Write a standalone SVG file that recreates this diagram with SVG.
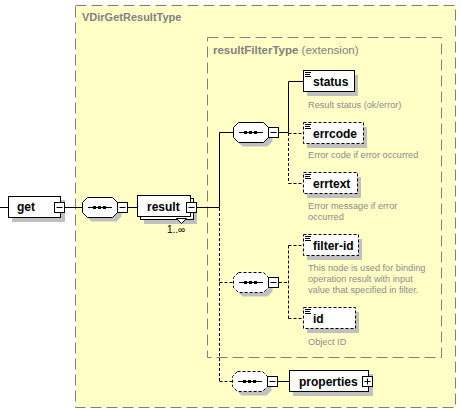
<svg xmlns="http://www.w3.org/2000/svg" xmlns:xlink="http://www.w3.org/1999/xlink" width="461" height="412" viewBox="0 0 461 412">
<defs>
<style>
.type{fill:#FFFFC6;stroke:#808080;stroke-width:1;stroke-dasharray:11,5}
.sh{fill:#C0C0C0;stroke:none}
.box{fill:#fff;stroke:#000;stroke-width:1}
.opt{stroke-dasharray:3,2}
.ln{stroke:#000;stroke-width:1;fill:none}
.dl{stroke:#000;stroke-width:1;fill:none;stroke-dasharray:3,2}
.el{font-family:"Liberation Sans",Arial,sans-serif;font-weight:bold;font-size:12px;fill:#000}
.ttl{font-family:"Liberation Sans",Arial,sans-serif;font-weight:bold;font-size:11px;fill:#808080}
.ttl2{font-family:"Liberation Sans",Arial,sans-serif;font-weight:bold;font-size:11.5px;fill:#808080}
.ext{font-family:"Liberation Sans",Arial,sans-serif;font-weight:normal;font-size:11.5px;fill:#808080}
.ann{font-family:"Liberation Sans",Arial,sans-serif;font-size:9.2px;fill:#8c8c8c}
.occ{font-family:"Liberation Sans",Arial,sans-serif;font-size:10px;fill:#000}
</style>
<g id="mn"><rect x="0.5" y="0.5" width="10" height="10" class="box"/><line class="ln" x1="2.5" y1="5.5" x2="8.5" y2="5.5"/></g>
<g id="pl"><rect x="0.5" y="0.5" width="10" height="10" class="box"/><line class="ln" x1="2.5" y1="5.5" x2="8.5" y2="5.5"/><line class="ln" x1="5.5" y1="2.5" x2="5.5" y2="8.5"/></g>
<g id="ic"><line class="ln" x1="2" y1="2.5" x2="8" y2="2.5"/><line class="ln" x1="2" y1="4.5" x2="7" y2="4.5"/><line class="ln" x1="2" y1="6.5" x2="8" y2="6.5"/></g>
<polygon id="oct" points="5.5,0.5 30.5,0.5 35.5,5.5 35.5,15.5 30.5,20.5 5.5,20.5 0.5,15.5 0.5,5.5"/>
<g id="seqmark"><line class="ln" x1="6" y1="10.5" x2="30" y2="10.5"/><rect x="11" y="9" width="3" height="3" fill="#000"/><rect x="16" y="9" width="3" height="3" fill="#000"/><rect x="21" y="9" width="3" height="3" fill="#000"/></g>
<g id="seqS"><use xlink:href="#oct" href="#oct" x="4" y="4" class="sh"/><use xlink:href="#oct" href="#oct" class="box"/><use xlink:href="#seqmark" href="#seqmark"/></g>
<g id="seqD"><use xlink:href="#oct" href="#oct" x="4" y="4" class="sh"/><use xlink:href="#oct" href="#oct" class="box opt"/><use xlink:href="#seqmark" href="#seqmark"/></g>
</defs>

<rect width="461" height="412" fill="#fff"/>

<g id="VDirGetResultType">
<rect class="type" x="75.5" y="5.5" width="380" height="402"/>
<text class="ttl" x="82" y="21">VDirGetResultType</text>
</g>
<g id="resultFilterType">
<rect class="type" x="207.5" y="37.5" width="234" height="320"/>
<text x="213" y="54"><tspan class="ttl2">resultFilterType</tspan><tspan class="ext"> (extension)</tspan></text>
</g>

<g id="connectors">
<line class="ln" x1="0" y1="207.5" x2="8" y2="207.5"/>
<line class="ln" x1="65" y1="207.5" x2="82" y2="207.5"/>
<line class="ln" x1="128" y1="207.5" x2="137" y2="207.5"/>
<line class="ln" x1="197" y1="207.5" x2="219.5" y2="207.5"/>
<line class="ln" x1="219.5" y1="132.5" x2="219.5" y2="207.5"/>
<line class="dl" x1="219.5" y1="208" x2="219.5" y2="381.5"/>
<line class="ln" x1="219.5" y1="132.5" x2="234" y2="132.5"/>
<line class="dl" x1="219.5" y1="282.5" x2="234" y2="282.5"/>
<line class="dl" x1="219.5" y1="381.5" x2="233" y2="381.5"/>
<line class="ln" x1="279" y1="132.5" x2="288.5" y2="132.5"/>
<line class="ln" x1="288.5" y1="81.5" x2="288.5" y2="132.5"/>
<line class="dl" x1="288.5" y1="133" x2="288.5" y2="183.5"/>
<line class="ln" x1="288.5" y1="81.5" x2="303" y2="81.5"/>
<line class="dl" x1="288.5" y1="133.5" x2="303" y2="133.5"/>
<line class="dl" x1="288.5" y1="183.5" x2="303" y2="183.5"/>
<line class="dl" x1="279" y1="282.5" x2="288.5" y2="282.5"/>
<line class="dl" x1="288.5" y1="245.5" x2="288.5" y2="318.5"/>
<line class="dl" x1="288.5" y1="245.5" x2="303" y2="245.5"/>
<line class="dl" x1="288.5" y1="318.5" x2="303" y2="318.5"/>
<line class="ln" x1="278" y1="381.5" x2="289" y2="381.5"/>
</g>

<g id="get">
<rect class="sh" x="12" y="200" width="53" height="22"/>
<rect class="box" x="8.5" y="196.5" width="52" height="21"/>
<text class="el" x="17" y="211">get</text>
<use xlink:href="#mn" href="#mn" x="54" y="202"/>
</g>

<g id="seq1">
<use xlink:href="#seqS" href="#seqS" x="82" y="197"/>
<use xlink:href="#mn" href="#mn" x="117" y="202"/>
</g>

<g id="result">
<rect class="sh" x="144" y="202" width="53" height="22"/>
<rect class="box" x="140.5" y="198.5" width="53" height="21"/>
<rect class="box" x="137.5" y="195.5" width="53" height="21"/>
<polygon class="box" points="176.5,218.5 186.5,218.5 181.5,223.5"/>
<text class="el" x="147" y="211">result</text>
<use xlink:href="#mn" href="#mn" x="186" y="202"/>
<text class="occ" x="167" y="233">1..∞</text>
</g>

<g id="seq2">
<use xlink:href="#seqS" href="#seqS" x="233" y="122"/>
<use xlink:href="#mn" href="#mn" x="268" y="127"/>
</g>

<g id="status">
<rect class="sh" x="307" y="75" width="51" height="21"/>
<rect class="box" x="303.5" y="70.5" width="51" height="21"/>
<use xlink:href="#ic" href="#ic" x="303" y="70"/>
<text class="el" x="313" y="86">status</text>
<text class="ann" x="308" y="108">Result status (ok/error)</text>
</g>

<g id="errcode">
<rect class="sh" x="307" y="127" width="60" height="21"/>
<rect class="box opt" x="303.5" y="122.5" width="60" height="21"/>
<use xlink:href="#ic" href="#ic" x="303" y="122"/>
<text class="el" x="313" y="138">errcode</text>
<text class="ann" x="308" y="158">Error code if error occurred</text>
</g>

<g id="errtext">
<rect class="sh" x="307" y="177" width="54" height="21"/>
<rect class="box opt" x="303.5" y="172.5" width="54" height="21"/>
<use xlink:href="#ic" href="#ic" x="303" y="172"/>
<text class="el" x="313" y="188">errtext</text>
<text class="ann" x="308" y="209">Error message if error</text>
<text class="ann" x="308" y="220">occurred</text>
</g>

<g id="seq3">
<use xlink:href="#seqD" href="#seqD" x="233" y="272"/>
<use xlink:href="#mn" href="#mn" x="268" y="277"/>
</g>

<g id="filter-id">
<rect class="sh" x="307" y="239" width="55" height="21"/>
<rect class="box opt" x="303.5" y="234.5" width="55" height="21"/>
<use xlink:href="#ic" href="#ic" x="303" y="234"/>
<text class="el" x="313" y="250">filter-id</text>
<text class="ann" x="308" y="271">This node is used for binding</text>
<text class="ann" x="308" y="282">operation result with input</text>
<text class="ann" x="308" y="293">value that specified in filter.</text>
</g>

<g id="id">
<rect class="sh" x="307" y="312" width="52" height="21"/>
<rect class="box opt" x="303.5" y="307.5" width="52" height="21"/>
<use xlink:href="#ic" href="#ic" x="303" y="307"/>
<text class="el" x="313" y="323">id</text>
<text class="ann" x="308" y="345">Object ID</text>
</g>

<g id="seq4">
<use xlink:href="#seqD" href="#seqD" x="232" y="371"/>
<use xlink:href="#mn" href="#mn" x="267" y="376"/>
</g>

<g id="properties">
<rect class="sh" x="293" y="374" width="80" height="22"/>
<rect class="box" x="289.5" y="370.5" width="79" height="21"/>
<text class="el" x="299" y="386">properties</text>
<use xlink:href="#pl" href="#pl" x="362" y="376"/>
</g>
</svg>
